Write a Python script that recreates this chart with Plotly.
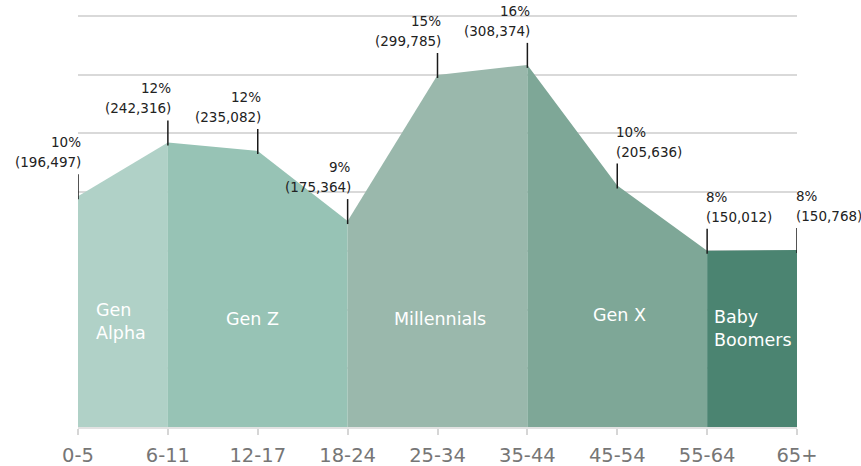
import plotly.graph_objects as go

# ---- data ----
age_groups = ["0-5", "6-11", "12-17", "18-24", "25-34", "35-44", "45-54", "55-64", "65+"]
population = [196497, 242316, 235082, 175364, 299785, 308374, 205636, 150012, 150768]
share_pct = [10, 12, 12, 9, 15, 16, 10, 8, 8]

generations = ["Gen Alpha", "Gen Z", "Millennials", "Gen X", "Baby Boomers"]
gen_start = ["0-5", "6-11", "18-24", "35-44", "55-64"]
gen_end = ["6-11", "18-24", "35-44", "55-64", "65+"]
gen_colors = ["#b0d1c7", "#97c3b5", "#9ab8ac", "#7ea797", "#4b8471"]

grid_vals = [50000, 100000, 150000, 200000, 250000, 300000, 350000]

FONT = "DejaVu Sans"
pos = {a: i for i, a in enumerate(age_groups)}

fig = go.Figure()

for g, s, e, c in zip(generations, gen_start, gen_end, gen_colors):
    i0, i1 = pos[s], pos[e]
    xs = list(range(i0, i1 + 1))
    ys = population[i0:i1 + 1]
    fig.add_trace(go.Scatter(
        x=xs, y=ys, mode="lines", fill="tozeroy",
        line=dict(width=0, color=c), fillcolor=c,
        hoverinfo="skip", showlegend=False, name=g,
    ))

# generation labels (layout placement)
gen_label_cfg = {
    "Gen Alpha": dict(text="Gen<br>Alpha", x=0, y=89800, xanchor="left", xshift=16, align="left"),
    "Gen Z": dict(text="Gen Z", x=2, y=92000, xanchor="center", xshift=-5, align="center"),
    "Millennials": dict(text="Millennials", x=4, y=92000, xanchor="center", xshift=2, align="center"),
    "Gen X": dict(text="Gen X", x=6, y=95400, xanchor="center", xshift=2, align="center"),
    "Baby Boomers": dict(text="Baby<br>Boomers", x=7, y=84300, xanchor="left", xshift=5, align="left"),
}
for g in generations:
    cfg = gen_label_cfg[g]
    fig.add_annotation(
        text=cfg["text"], x=cfg["x"], y=cfg["y"], xref="x", yref="y",
        xanchor=cfg["xanchor"], yanchor="middle", xshift=cfg["xshift"],
        align=cfg["align"], showarrow=False,
        font=dict(family=FONT, size=17.5, color="white"),
    )

# value labels with leader ticks
for i, (a, v, p) in enumerate(zip(age_groups, population, share_pct)):
    right = i <= 5
    xa = "right" if right else "left"
    xs = 5 if right else -3
    al = "right" if right else "left"
    fig.add_shape(
        type="line", xref="x", yref="y", ysizemode="pixel", yanchor=v,
        x0=i, x1=i, y0=-3, y1=22,
        line=dict(color="#1a1a1a", width=1.5),
    )
    fig.add_annotation(
        text=f"({v:,})", x=i, y=v, xref="x", yref="y", showarrow=False,
        xanchor=xa, yanchor="middle", xshift=xs, yshift=34, align=al,
        font=dict(family=FONT, size=13.5, color="#222222"),
    )
    fig.add_annotation(
        text=f"{p}%", x=i, y=v, xref="x", yref="y", showarrow=False,
        xanchor=xa, yanchor="middle", xshift=xs, yshift=54, align=al,
        font=dict(family=FONT, size=13.5, color="#222222"),
    )

fig.update_layout(
    width=861, height=466,
    margin=dict(l=78, r=64, t=12, b=39, pad=0, autoexpand=False),
    paper_bgcolor="white", plot_bgcolor="white",
    font=dict(family=FONT),
    showlegend=False,
    xaxis=dict(
        range=[0, len(age_groups) - 1], automargin=False,
        tickmode="array", tickvals=list(range(len(age_groups))), ticktext=age_groups,
        showgrid=False, zeroline=False,
        showline=True, linecolor="#e2e2e2", linewidth=1.5,
        ticks="outside", ticklen=6, tickwidth=1.5, tickcolor="#d6d6d6",
        tickfont=dict(family=FONT, size=19.5, color="#767676"),
        ticklabelstandoff=4,
    ),
    yaxis=dict(
        range=[0, 353409], automargin=False,
        tickmode="array", tickvals=grid_vals,
        showticklabels=False, showgrid=True, gridcolor="#d9d9d9", gridwidth=2,
        zeroline=False, showline=False, ticks="",
    ),
)

# remove the browser's default 8px body margin so the figure sits at the page origin
fig.write_html(
    "out.html",
    config={"displayModeBar": False},
    post_script="document.body.style.margin='0';document.body.style.overflow='hidden';",
)
